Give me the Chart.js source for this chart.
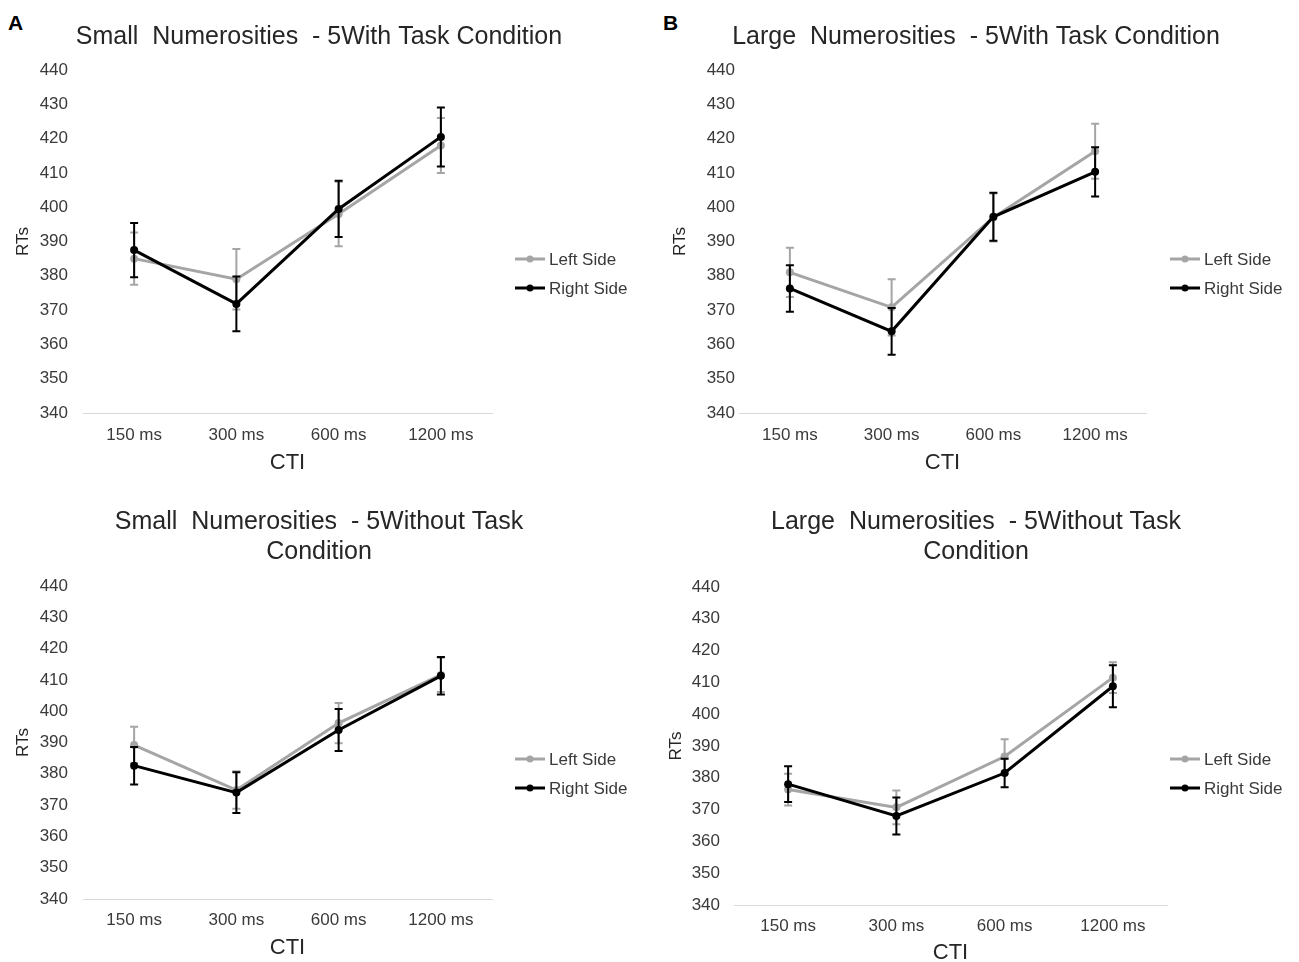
<!DOCTYPE html>
<html><head><meta charset="utf-8">
<script src="https://cdn.jsdelivr.net/npm/chart.js@4/dist/chart.umd.min.js"></script>
<style>
body{margin:0;background:#fff;width:1299px;height:962px;position:relative;overflow:hidden;font-family:"Liberation Sans",Arial,sans-serif}
.panel{position:absolute}
.lab{position:absolute;font-weight:bold;font-size:21px;color:#000;line-height:1}
</style></head><body>
<div class="lab" style="left:8px;top:12px">A</div>
<div class="lab" style="left:663px;top:12px">B</div>
<div class="panel" style="left:0px;top:0px"><canvas id="cA" width="638" height="480"></canvas></div>
<div class="panel" style="left:655px;top:0px"><canvas id="cB" width="642" height="480"></canvas></div>
<div class="panel" style="left:0px;top:480px"><canvas id="cC" width="638" height="482"></canvas></div>
<div class="panel" style="left:655px;top:480px"><canvas id="cD" width="642" height="482"></canvas></div>
<script>
// ---------- data ----------
const ctiLabels = ['150 ms', '300 ms', '600 ms', '1200 ms'];
const seriesNames = ['Left Side', 'Right Side'];
const yMin = 340, yMax = 440, yStep = 10;

const titleA = 'Small  Numerosities  - 5With Task Condition';
const titleB = 'Large  Numerosities  - 5With Task Condition';
const titleC = ['Small  Numerosities  - 5Without Task', 'Condition'];
const titleD = ['Large  Numerosities  - 5Without Task', 'Condition'];

const smallWithLeft     = [385.0, 379.0, 398.0, 418.0];
const smallWithLeftErr  = [7.6, 8.8, 9.4, 8.0];
const smallWithRight    = [387.5, 371.8, 399.5, 420.5];
const smallWithRightErr = [7.9, 8.0, 8.2, 8.6];

const largeWithLeft     = [381.0, 370.8, 397.0, 416.3];
const largeWithLeftErr  = [7.2, 8.2, 7.0, 8.0];
const largeWithRight    = [376.3, 363.8, 397.2, 410.3];
const largeWithRightErr = [6.8, 6.8, 7.0, 7.2];

const smallWithoutLeft     = [389.2, 374.8, 396.2, 411.6];
const smallWithoutLeftErr  = [5.8, 6.0, 6.4, 5.5];
const smallWithoutRight    = [382.6, 374.0, 394.0, 411.3];
const smallWithoutRightErr = [6.0, 6.5, 6.7, 6.0];

const largeWithoutLeft     = [376.3, 370.7, 386.7, 411.5];
const largeWithoutLeftErr  = [5.0, 5.3, 5.4, 4.8];
const largeWithoutRight    = [378.0, 368.0, 381.5, 408.8];
const largeWithoutRightErr = [5.6, 5.8, 4.5, 6.6];

// ---------- styling ----------
const GRAY = '#a5a5a5', BLACK = '#000000', TXT = '#3a3a3a', TITLE = '#262626';
Chart.defaults.font.family = "'Liberation Sans', Arial, sans-serif";

const errorBars = {
  id: 'errorBars',
  afterDatasetDraw(chart, args) {
    const ds = chart.data.datasets[args.index];
    if (!ds.errors) return;
    const ys = chart.scales.y, ctx = chart.ctx;
    ctx.save();
    ctx.strokeStyle = ds.borderColor; ctx.lineWidth = 2;
    args.meta.data.forEach((pt, i) => {
      const v = ds.data[i], e = ds.errors[i], x = pt.x;
      const y1 = ys.getPixelForValue(v + e), y2 = ys.getPixelForValue(v - e);
      ctx.beginPath();
      ctx.moveTo(x, y1); ctx.lineTo(x, y2);
      ctx.moveTo(x - 4, y1); ctx.lineTo(x + 4, y1);
      ctx.moveTo(x - 4, y2); ctx.lineTo(x + 4, y2);
      ctx.stroke();
    });
    ctx.restore();
  }
};

const sideLegend = {
  id: 'sideLegend',
  afterDraw(chart, args, opts) {
    const ctx = chart.ctx;
    ctx.save();
    chart.data.datasets.forEach((ds, i) => {
      const y = opts.y[i], x = opts.x;
      ctx.strokeStyle = ds.borderColor; ctx.lineWidth = 3;
      ctx.beginPath(); ctx.moveTo(x, y); ctx.lineTo(x + 30, y); ctx.stroke();
      ctx.fillStyle = ds.borderColor;
      ctx.beginPath(); ctx.arc(x + 15, y, 3.5, 0, Math.PI * 2); ctx.fill();
      ctx.fillStyle = TXT; ctx.font = "17px 'Liberation Sans', Arial, sans-serif";
      ctx.textBaseline = 'middle'; ctx.textAlign = 'left';
      ctx.fillText(ds.label, x + 34, y + 1);
    });
    ctx.restore();
  }
};

function makeChart(id, cfg) {
  new Chart(document.getElementById(id), {
    type: 'line',
    data: {
      labels: ctiLabels,
      datasets: [
        { label: seriesNames[0], data: cfg.left, errors: cfg.leftErr, borderColor: GRAY, backgroundColor: GRAY,
          borderWidth: 3, pointRadius: 4, pointBackgroundColor: GRAY, pointBorderWidth: 0, tension: 0, order: 1 },
        { label: seriesNames[1], data: cfg.right, errors: cfg.rightErr, borderColor: BLACK, backgroundColor: BLACK,
          borderWidth: 3, pointRadius: 4, pointBackgroundColor: BLACK, pointBorderWidth: 0, tension: 0, order: 0 }
      ]
    },
    options: {
      responsive: false, animation: false, devicePixelRatio: 1,
      layout: { padding: 0 },
      plugins: {
        legend: { display: false }, tooltip: { enabled: false },
        title: { display: true, text: cfg.title, color: TITLE,
          font: { size: 25, weight: 'normal', lineHeight: 1.2 },
          padding: { top: cfg.titlePadTop, bottom: cfg.titlePadBottom } },
        sideLegend: { x: cfg.legendX, y: cfg.legendY }
      },
      scales: {
        x: { offset: true, grid: { display: false, drawTicks: false }, border: { display: true, color: '#d9d9d9', width: 1 },
          ticks: { color: TXT, font: { size: 17 }, padding: cfg.xTickPad },
          title: { display: true, text: 'CTI', color: TITLE, font: { size: 22 }, padding: { top: 0, bottom: cfg.ctiPad } },
          afterFit(s) { s.height = cfg.xH; } },
        y: { min: yMin, max: yMax, grid: { display: false, drawTicks: false }, border: { display: false },
          ticks: { stepSize: yStep, color: TXT, font: { size: 17 }, padding: cfg.yTickPad },
          title: { display: true, text: 'RTs', color: TITLE, font: { size: 17 }, padding: { top: cfg.rtsPad, bottom: 0 } },
          afterFit(s) { s.width = cfg.yW; } },
        yR: { position: 'right', display: true, min: 0, max: 1, grid: { display: false }, border: { display: false },
          ticks: { display: false }, afterFit(s) { s.width = cfg.rightW; } }
      }
    },
    plugins: [errorBars, sideLegend]
  });
}

makeChart('cA', { title: titleA, left: smallWithLeft, leftErr: smallWithLeftErr, right: smallWithRight, rightErr: smallWithRightErr,
  titlePadTop: 22, titlePadBottom: 18, xH: 67, yW: 83, rightW: 146, xTickPad: 12, ctiPad: 4, yTickPad: 15, rtsPad: 13,
  legendX: 515, legendY: [259, 288] });
makeChart('cB', { title: titleB, left: largeWithLeft, leftErr: largeWithLeftErr, right: largeWithRight, rightErr: largeWithRightErr,
  titlePadTop: 22, titlePadBottom: 18, xH: 67, yW: 84, rightW: 151, xTickPad: 12, ctiPad: 4, yTickPad: 4, rtsPad: 15,
  legendX: 515, legendY: [259, 288] });
makeChart('cC', { title: titleC, left: smallWithoutLeft, leftErr: smallWithoutLeftErr, right: smallWithoutRight, rightErr: smallWithoutRightErr,
  titlePadTop: 27, titlePadBottom: 19, xH: 63, yW: 83, rightW: 146, xTickPad: 11, ctiPad: 1, yTickPad: 15, rtsPad: 13,
  legendX: 515, legendY: [279, 308] });
makeChart('cD', { title: titleD, left: largeWithoutLeft, leftErr: largeWithoutLeftErr, right: largeWithoutRight, rightErr: largeWithoutRightErr,
  titlePadTop: 27, titlePadBottom: 20, xH: 57, yW: 79, rightW: 130, xTickPad: 11, ctiPad: -4, yTickPad: 14, rtsPad: 11,
  legendX: 515, legendY: [279, 308] });
</script>
</body></html>
